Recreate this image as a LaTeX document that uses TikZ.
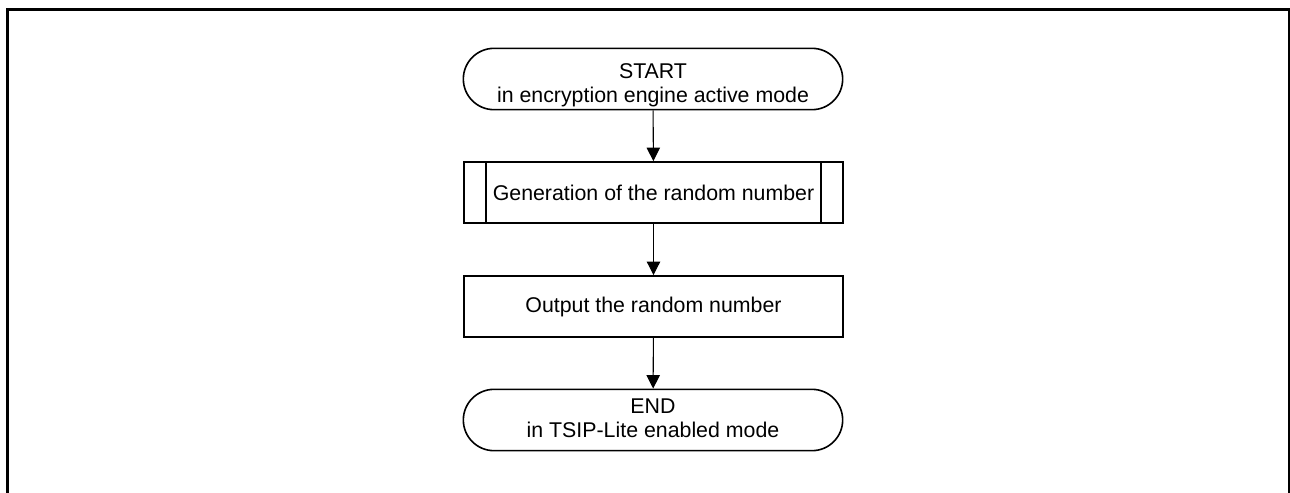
\documentclass[tikz,border=0pt]{standalone}
\usepackage{fontspec}
\setmainfont{Liberation Sans}
\usetikzlibrary{arrows.meta}
\begin{document}
\begin{tikzpicture}[x=0.75pt,y=-0.75pt,
  box/.style={draw, line width=1.2pt, minimum width=284.5pt, minimum height=46pt, inner sep=0pt, align=center, font=\fontsize{16}{18}\selectfont},
  term/.style={box, rounded corners=23pt},
  txt/.style={inner sep=0pt, align=center, font=\fontsize{16}{18}\selectfont},
  arr/.style={-{Triangle[length=10pt,width=10pt]}, line width=0.8pt}]
\useasboundingbox (0,0) rectangle (1290,493);
\draw[line width=2.25pt] (7,493) -- (7,9.5) -- (1289,9.5);
\draw[line width=1.5pt] (1289,8.4) -- (1289,493);
\node[term] (st) at (653,79) {};
\node[txt] (stt) at (653,85) {START\\in encryption engine active mode};
\node[box] (gen) at (653.5,192.5) {Generation of the random number};
\draw[line width=1.2pt] ([xshift=17.25pt]gen.north west) -- ([xshift=17.25pt]gen.south west);
\draw[line width=1.2pt] ([xshift=-17.25pt]gen.north east) -- ([xshift=-17.25pt]gen.south east);
\node[box] (out) at (653.5,306.5) {Output the random number};
\node[term] (en) at (653,420) {};
\node[txt] (ent) at (653,418) {END\\in TSIP-Lite enabled mode};
\draw[arr] (st) -- (gen);
\draw[arr] (gen) -- (out);
\draw[arr] (out) -- (en);
\end{tikzpicture}
\end{document}
